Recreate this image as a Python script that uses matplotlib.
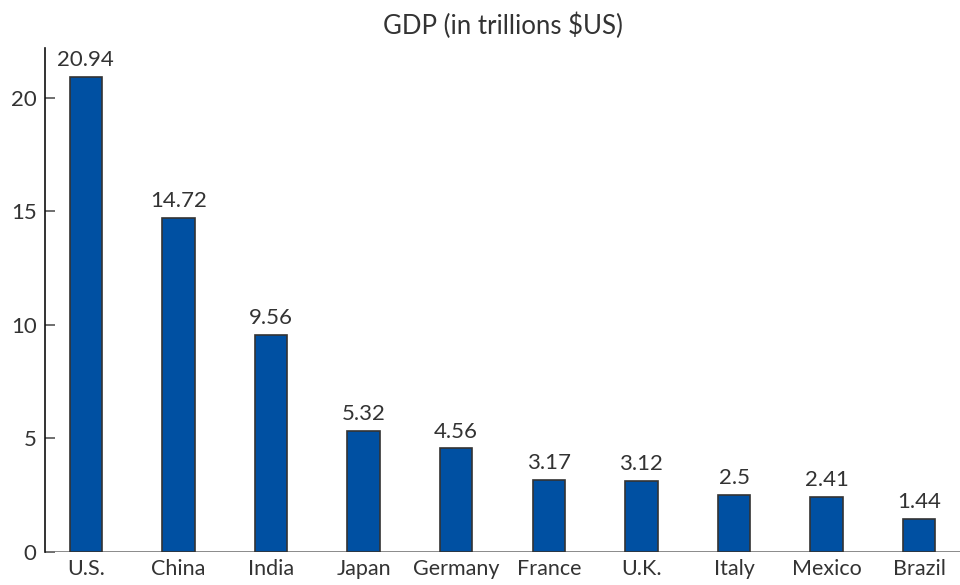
import numpy as np
import matplotlib.pyplot as plt

countries = ["U.S.", "China", "India", "Japan", "Germany", "France", "U.K.", "Italy", "Mexico", "Brazil"]
gdp = [20.94, 14.72, 9.56, 5.32, 4.56, 3.17, 3.12, 2.5, 2.41, 1.44]
value_labels = ["20.94", "14.72", "9.56", "5.32", "4.56", "3.17", "3.12", "2.5", "2.41", "1.44"]
yticks = [0, 5, 10, 15, 20]

plt.rcParams['font.family'] = ['Lato', 'DejaVu Sans']
textcol = "#333333"

fig = plt.figure(figsize=(9.6, 5.85), dpi=100)
ax = fig.add_axes([45/960, 33/585, 915/960, 504/585])

x = np.arange(len(countries))
ax.bar(x, gdp, width=0.35, color="#0050a2", edgecolor="#333333", linewidth=1.2, zorder=3)
for xi, v, lab in zip(x, gdp, value_labels):
    ax.text(xi, v + 0.3, lab, ha="center", va="bottom", fontsize=16, color=textcol)

ax.axhline(0, color="#777777", linewidth=1.2, zorder=2)
ax.set_xlim(-0.44, len(countries) - 0.56)
ax.set_ylim(0, 22.2)
ax.set_yticks(yticks)
ax.set_xticks(x)
ax.set_xticklabels(countries)
ax.tick_params(axis="y", direction="in", length=7, width=1.2, colors="#555555", labelcolor=textcol, labelsize=16, pad=6)
ax.tick_params(axis="x", length=0, labelcolor=textcol, labelsize=15.5, pad=5)
for s in ["top", "right", "bottom"]:
    ax.spines[s].set_visible(False)
ax.spines["left"].set_color("#111111")
ax.spines["left"].set_linewidth(1.2)

ax.set_title("GDP (in trillions $US)", fontsize=18.5, color=textcol, pad=10)

fig.savefig("out.png", dpi=100)
